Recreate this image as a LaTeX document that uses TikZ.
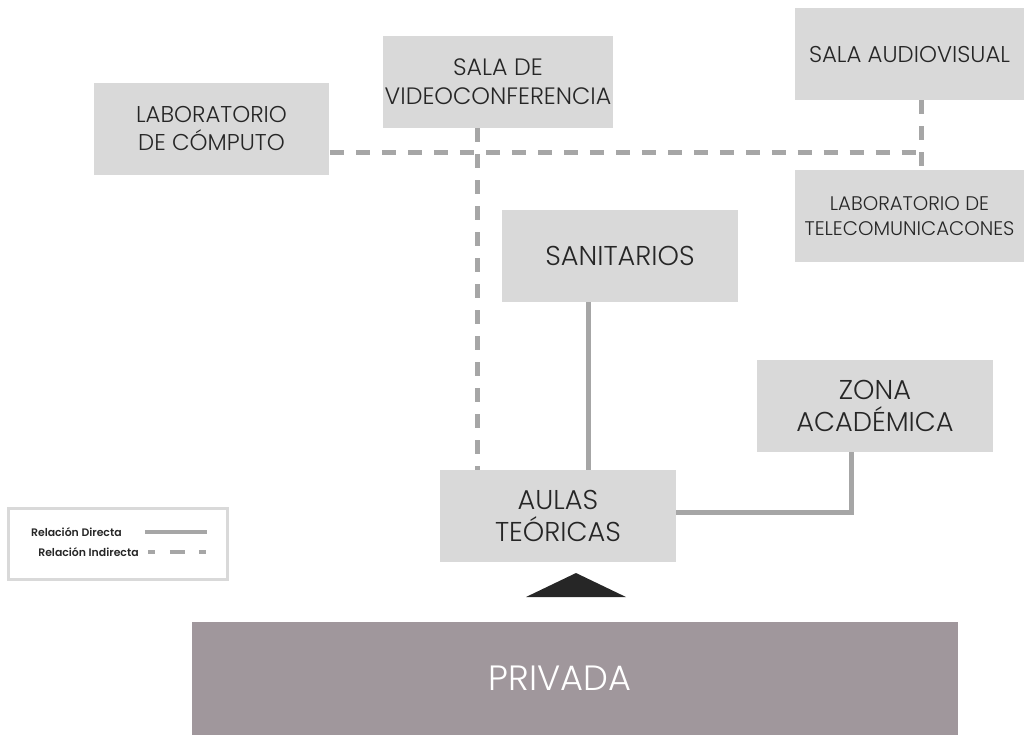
\documentclass[tikz,border=0pt]{standalone}
\usepackage{fontspec}
\setmainfont{Poppins}[UprightFont={* Light}, BoldFont={* SemiBold}]
\usepackage{tikz}
\usetikzlibrary{positioning}
\definecolor{cajagris}{HTML}{D9D9D9}
\definecolor{lineagris}{HTML}{A6A6A6}
\definecolor{privadagris}{HTML}{A0979C}
\definecolor{textogris}{HTML}{262626}
\tikzset{
    zona/.style={rectangle, fill=cajagris, text=textogris, align=center, minimum width=4.72cm, minimum height=1.84cm, inner sep=1pt, font=\fontsize{13}{16.5}\selectfont},
    zonagrande/.style={zona, font=\fontsize{15.5}{18}\selectfont},
    directa/.style={draw=lineagris, line width=0.1cm},
    indirecta/.style={draw=lineagris, line width=0.1cm, dash pattern=on 0.28cm off 0.24cm},
    leyenda/.style={font=\fontsize{6.2}{7}\selectfont\bfseries, text=textogris, inner sep=0pt, anchor=east},
}
\begin{document}
\begin{tikzpicture}[x=0.02cm, y=-0.02cm]
    \useasboundingbox (0,0) rectangle (1024,735);
    % Zonas
    \node[zona] (lab) at (211.5,128.5) {LABORATORIO\\DE CÓMPUTO};
    \node[zona, minimum width=4.6cm, font=\fontsize{13.5}{16.5}\selectfont] (video) at (498,82) {SALA DE\\VIDEOCONFERENCIA};
    \node[zona, minimum width=4.58cm] (audio) at (909.5,54) {SALA AUDIOVISUAL};
    \node[zona, minimum width=4.58cm, font=\fontsize{11.2}{14}\selectfont] (tele) at (909.5,216) {LABORATORIO DE\\TELECOMUNICACONES};
    \node[zonagrande] (sanit) at (620,256) {SANITARIOS};
    \node[zonagrande] (acad) at (875,406) {ZONA\\ACADÉMICA};
    \node[zonagrande] (aulas) at (558,516) {AULAS\\TEÓRICAS};
    \node[rectangle, fill=privadagris, text=white, minimum width=15.32cm, minimum height=2.26cm, font=\fontsize{20}{22}\selectfont] (priv) at (575,678.5) {PRIVADA\kern0.6cm};

    % Acceso
    \fill[textogris] (526,597) -- (576,573) -- (626,597) -- cycle;

    % Relaciones
    \coordinate (cruce) at (921,152);
    \coordinate (bajada) at (477,300);
    \coordinate (sube) at (588,380);
    \coordinate (codo) at (851,512);
    \draw[indirecta] (lab.east |- cruce) -- (cruce);
    \draw[indirecta] (audio.south -| cruce) -- (tele.north -| cruce);
    \draw[indirecta] (video.south -| bajada) -- (aulas.north -| bajada);
    \draw[directa] (sanit.south -| sube) -- (aulas.north -| sube);
    \draw[directa] (aulas.east |- codo) -- (codo) -- (acad.south -| codo);

    % Leyenda
    \node[draw=cajagris, line width=0.06cm, minimum width=4.4cm, minimum height=1.42cm] (ley) at (118,543.5) {};
    \node[leyenda] (ldir) at (122,532) {Relación Directa};
    \node[leyenda] (lind) at (139,552) {Relación Indirecta};
    \coordinate (dfin) at (207,532);
    \coordinate (ifin) at (208,552);
    \draw[draw=lineagris, line width=0.09cm] ([xshift=0.46cm]ldir.east) -- (dfin);
    \draw[draw=lineagris, line width=0.09cm, dash pattern=on 0.14cm off 0.3cm on 0.3cm off 0.28cm] ([xshift=0.18cm]lind.east) -- (ifin);
\end{tikzpicture}
\end{document}
